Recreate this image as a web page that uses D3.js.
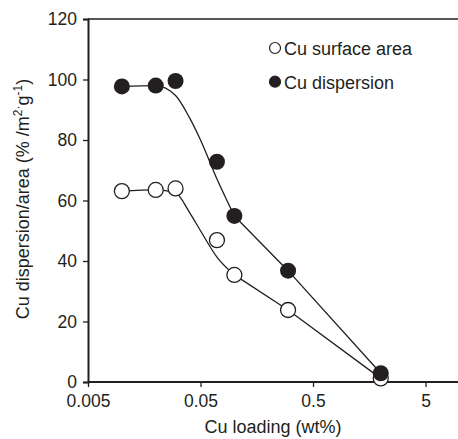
<!DOCTYPE html>
<html>
<head>
<meta charset="utf-8">
<script src="https://cdn.jsdelivr.net/npm/d3@7"></script>
<style>
  body { margin: 0; background: #fff; }
  text { font-family: "Liberation Sans", Arial, sans-serif; fill: #231f20; }
</style>
</head>
<body>
<div id="chart"></div>
<script>
// Measured points
const loading = [0.01, 0.02, 0.03, 0.07, 0.1, 0.3, 2];
const surfaceArea = [63.1, 63.5, 64, 46.9, 35.4, 23.8, 1.2];
const dispersion = [97.7, 98, 99.5, 72.8, 54.9, 36.8, 2.9];

// Hand-drawn trend lines (curved part, then straight part)
const fitX = [0.01, 0.02, 0.03, 0.04, 0.05, 0.07, 0.1];
const surfaceFit = [63.1, 63.5, 62.5, 56, 50, 41.3, 35.4];
const dispersionFit = [97.7, 98, 94.7, 87.3, 80, 67.1, 54.9];
const lineX = [0.1, 0.3, 2];
const surfaceLine = [35.4, 23.8, 1.2];
const dispersionLine = [54.9, 36.8, 2.9];

const xTicks = [0.005, 0.05, 0.5, 5];
const yTicks = [0, 20, 40, 60, 80, 100, 120];

const width = 458, height = 439;
const margin = {top: 19, right: 0, bottom: 57, left: 88};

const x = d3.scaleLog().domain([0.005, 10]).range([margin.left, 459.4]);
const y = d3.scaleLinear().domain([0, 120]).range([height - margin.bottom, margin.top]);

const svg = d3.select("#chart").append("svg")
    .attr("width", width)
    .attr("height", height);

// top frame line
svg.append("line")
    .attr("x1", margin.left).attr("x2", width)
    .attr("y1", y(120)).attr("y2", y(120))
    .attr("stroke", "#231f20").attr("stroke-width", 1.5);

// axes
const xAxis = svg.append("g")
    .attr("transform", "translate(0," + y(0) + ")")
    .call(d3.axisBottom(x).tickValues(xTicks).tickFormat(d => String(d)).tickSizeOuter(0).tickSize(5).tickPadding(8));
xAxis.select(".domain").attr("stroke", "#231f20").attr("stroke-width", 2)
    .attr("d", "M" + margin.left + ",0H" + width);

const yAxis = svg.append("g")
    .attr("transform", "translate(" + margin.left + ",0)")
    .call(d3.axisLeft(y).tickValues(yTicks).tickSizeOuter(0).tickSize(5).tickPadding(6));
yAxis.select(".domain").attr("stroke", "#231f20").attr("stroke-width", 2);

svg.selectAll(".tick line").attr("stroke", "#231f20").attr("stroke-width", 1.3);
svg.selectAll(".tick text").attr("font-size", 17.5).attr("fill", "#231f20")
    .style("font-family", "'Liberation Sans', Arial, sans-serif");

// axis titles
svg.append("text")
    .attr("x", (margin.left + width) / 2)
    .attr("y", 433)
    .attr("text-anchor", "middle")
    .attr("font-size", 18)
    .text("Cu loading (wt%)");

const yTitle = svg.append("text")
    .attr("transform", "translate(29,199) rotate(-90)")
    .attr("text-anchor", "middle")
    .attr("font-size", 18);
yTitle.append("tspan").text("Cu dispersion/area (% /m");
yTitle.append("tspan").attr("dy", -7).attr("font-size", 12).text("2");
yTitle.append("tspan").attr("font-size", 12).text("·");
yTitle.append("tspan").attr("dy", 7).text("g");
yTitle.append("tspan").attr("dy", -7).attr("font-size", 12).text("-1");
yTitle.append("tspan").attr("dy", 7).text(")");

// trend lines
const curve = d3.line().x(d => x(d[0])).y(d => y(d[1])).curve(d3.curveMonotoneX);
const straight = d3.line().x(d => x(d[0])).y(d => y(d[1]));

[[surfaceFit, surfaceLine], [dispersionFit, dispersionLine]].forEach(([fit, lin]) => {
  svg.append("path")
      .attr("d", curve(fitX.map((v, i) => [v, fit[i]])))
      .attr("fill", "none").attr("stroke", "#231f20").attr("stroke-width", 1.3);
  svg.append("path")
      .attr("d", straight(lineX.map((v, i) => [v, lin[i]])))
      .attr("fill", "none").attr("stroke", "#231f20").attr("stroke-width", 1.3);
});

// markers
svg.selectAll(".open")
  .data(loading.map((v, i) => [v, surfaceArea[i]]))
  .enter().append("circle")
    .attr("class", "open")
    .attr("cx", d => x(d[0])).attr("cy", d => y(d[1])).attr("r", 7.5)
    .attr("fill", "#fff").attr("stroke", "#231f20").attr("stroke-width", 1.3);

svg.selectAll(".filled")
  .data(loading.map((v, i) => [v, dispersion[i]]))
  .enter().append("circle")
    .attr("class", "filled")
    .attr("cx", d => x(d[0])).attr("cy", d => y(d[1])).attr("r", 8)
    .attr("fill", "#231f20");

// legend
const legend = [
  {label: "Cu surface area", fill: "#fff", y: 48},
  {label: "Cu dispersion", fill: "#231f20", y: 81.7}
];
const lg = svg.selectAll(".legend").data(legend).enter().append("g").attr("class", "legend");
lg.append("circle")
    .attr("cx", 275).attr("cy", d => d.y).attr("r", 5.5)
    .attr("fill", d => d.fill).attr("stroke", "#231f20").attr("stroke-width", 1.2);
lg.append("text")
    .attr("x", 284).attr("y", d => d.y + 7)
    .attr("font-size", 18)
    .text(d => d.label);
</script>
</body>
</html>
